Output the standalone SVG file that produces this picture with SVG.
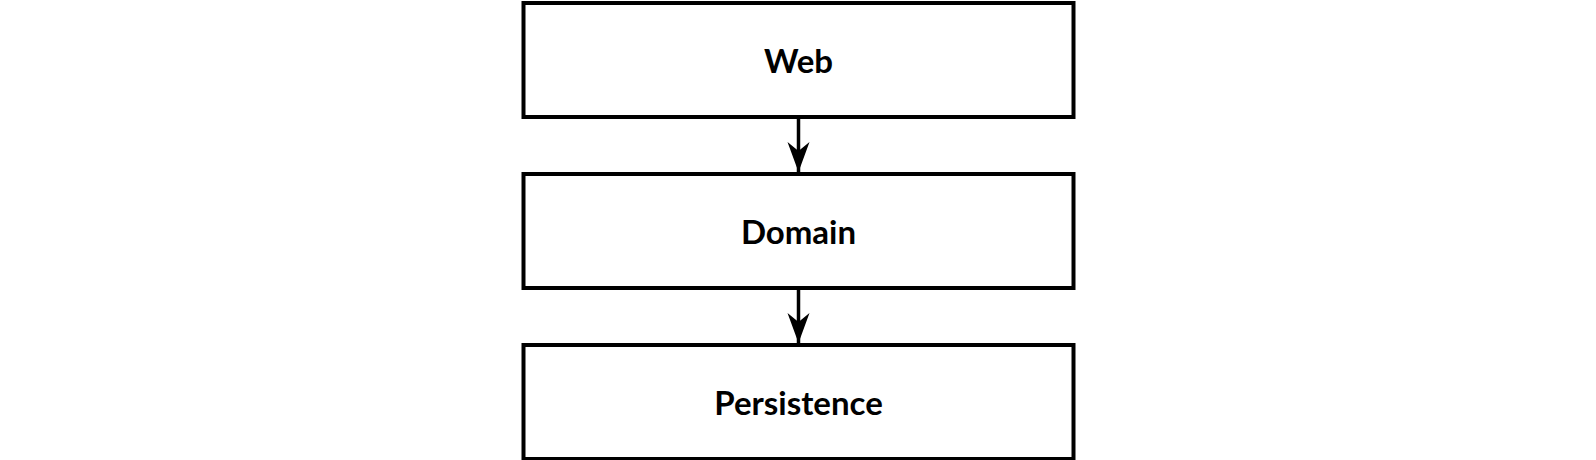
<svg xmlns="http://www.w3.org/2000/svg" width="1596" height="460" viewBox="0 0 1596 460">
<style>
.box{fill:#fff;stroke:#000;stroke-width:4}
.lbl{font-family:Lato,"Open Sans","Liberation Sans",sans-serif;font-weight:700;font-size:33px;fill:#000;text-anchor:middle}
.conn{stroke:#000;stroke-width:3.5;fill:none}
</style>
<defs>
<marker id="arr" markerUnits="userSpaceOnUse" markerWidth="32" markerHeight="24" refX="30" refY="11" orient="auto" viewBox="0 0 32 22">
<path d="M30 11 L0 0 L9 11 L0 22 Z" fill="#000"/>
</marker>
</defs>
<rect width="1596" height="460" fill="#fff"/>
<g id="connectors">
<path class="conn" d="M798.5 117 V172" marker-end="url(#arr)"/>
<path class="conn" d="M798.5 288 V343" marker-end="url(#arr)"/>
</g>
<g id="web">
<rect class="box" x="523.5" y="3" width="550" height="114"/>
<text class="lbl" x="798.5" y="73">Web</text>
</g>
<g id="domain">
<rect class="box" x="523.5" y="174" width="550" height="114"/>
<text class="lbl" x="798.5" y="244">Domain</text>
</g>
<g id="persistence">
<rect class="box" x="523.5" y="345" width="550" height="114"/>
<text class="lbl" x="798.5" y="415">Persistence</text>
</g>
</svg>
